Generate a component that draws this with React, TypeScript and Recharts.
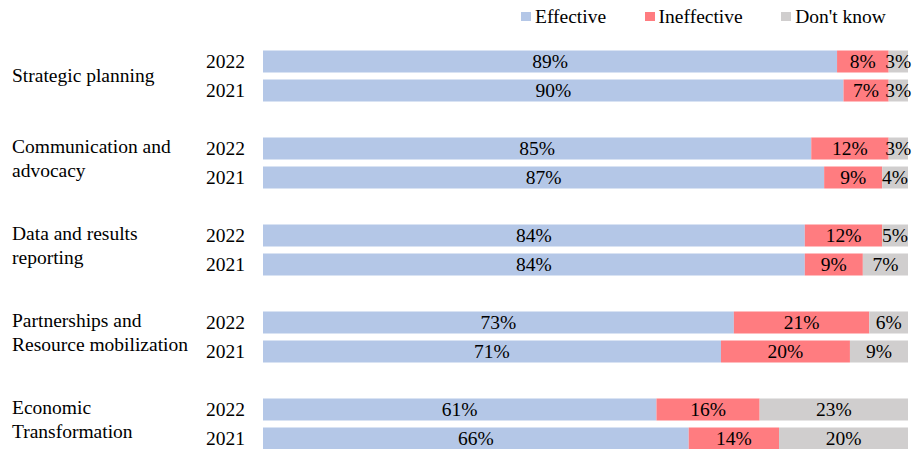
import { BarChart, Bar, XAxis, YAxis, Legend, LabelList } from 'recharts'

const categories = [
  ['Strategic planning'],
  ['Communication and', 'advocacy'],
  ['Data and results', 'reporting'],
  ['Partnerships and', 'Resource mobilization'],
  ['Economic', 'Transformation'],
]
const years = ['2022', '2021']
const seriesNames = ['Effective', 'Ineffective', "Don't know"]

const effective2022 = [89, 85, 84, 73, 61]
const effective2021 = [90, 87, 84, 71, 66]
const ineffective2022 = [8, 12, 12, 21, 16]
const ineffective2021 = [7, 9, 9, 20, 14]
const dontKnow2022 = [3, 3, 5, 6, 23]
const dontKnow2021 = [3, 4, 7, 9, 20]

const FONT = '"Liberation Serif", "Times New Roman", serif'
const FS = 19.5

type Row = {
  key: string
  year?: string
  lines?: string[]
  effective?: number
  ineffective?: number
  dontKnow?: number
}

// two bars per category plus an empty slot between groups
const rows: Row[] = []
categories.forEach((lines, i) => {
  if (i > 0) rows.push({ key: `gap-${i}` })
  rows.push({
    key: `${i}-${years[0]}`,
    year: years[0],
    lines,
    effective: effective2022[i],
    ineffective: ineffective2022[i],
    dontKnow: dontKnow2022[i],
  })
  rows.push({
    key: `${i}-${years[1]}`,
    year: years[1],
    effective: effective2021[i],
    ineffective: ineffective2021[i],
    dontKnow: dontKnow2021[i],
  })
})

const rowByKey = new Map(rows.map((r) => [r.key, r]))

function RowTick(props: any) {
  const { y, payload } = props
  const row = rowByKey.get(payload.value)
  if (!row || !row.year) return null
  const lines = row.lines ?? []
  const mid = y + 14.5
  const lineY =
    lines.length === 1 ? [mid + 6.5] : [mid - 9.5, mid + 14.5]
  return (
    <g fontFamily={FONT} fontSize={FS} fill="#000">
      <text x={245} y={y + 6.5} textAnchor="end">
        {row.year}
      </text>
      {lines.map((t, i) => (
        <text key={i} x={12} y={lineY[i]}>
          {t}
        </text>
      ))}
    </g>
  )
}

function LegendContent(props: any) {
  const payload = [...(props.payload ?? [])].sort(
    (a: any, b: any) => seriesNames.indexOf(a.value) - seriesNames.indexOf(b.value)
  )
  return (
    <div
      style={{
        display: 'flex',
        flexWrap: 'nowrap',
        whiteSpace: 'nowrap',
        alignItems: 'center',
        height: 23,
        paddingLeft: 521,
        paddingTop: 5,
        fontFamily: FONT,
        fontSize: FS,
        color: '#000',
      }}
    >
      {payload.map((p: any, i: number) => (
        <div
          key={p.value}
          style={{ display: 'flex', alignItems: 'center', marginRight: i < payload.length - 1 ? 38.5 : 0 }}
        >
          <span style={{ width: 10, height: 9, background: p.color, marginRight: 4, display: 'inline-block' }} />
          <span style={{ lineHeight: '23px' }}>{p.value}</span>
        </div>
      ))}
    </div>
  )
}

const pct = (v: any) => (v == null ? '' : `${v}%`)
const labelStyle = { fill: '#000', fontSize: FS, fontFamily: FONT }

export default function App() {
  return (
    <div style={{ position: 'absolute', left: 0, top: 0, width: 914, height: 449, overflow: 'hidden', background: '#fff' }}>
      <BarChart
        width={914}
        height={456}
        data={rows}
        layout="vertical"
        margin={{ top: 46.5, right: 6, bottom: 3.5, left: 0 }}
      >
        <XAxis type="number" domain={[0, 100]} allowDataOverflow hide />
        <YAxis
          type="category"
          dataKey="key"
          width={263}
          axisLine={false}
          tickLine={false}
          interval={0}
          tick={RowTick}
        />
        <Legend
          layout="horizontal"
          verticalAlign="middle"
          content={LegendContent}
          wrapperStyle={{ top: 0, left: 0, width: 914, height: 30 }}
        />
        <Bar dataKey="effective" name={seriesNames[0]} stackId="a" fill="#B4C7E7" barSize={22} isAnimationActive={false}>
          <LabelList dataKey="effective" position="center" formatter={pct} style={labelStyle} />
        </Bar>
        <Bar dataKey="ineffective" name={seriesNames[1]} stackId="a" fill="#FF7C80" barSize={22} isAnimationActive={false}>
          <LabelList dataKey="ineffective" position="center" formatter={pct} style={labelStyle} />
        </Bar>
        <Bar dataKey="dontKnow" name={seriesNames[2]} stackId="a" fill="#D0CECE" barSize={22} isAnimationActive={false}>
          <LabelList dataKey="dontKnow" position="center" formatter={pct} style={labelStyle} />
        </Bar>
      </BarChart>
    </div>
  )
}
